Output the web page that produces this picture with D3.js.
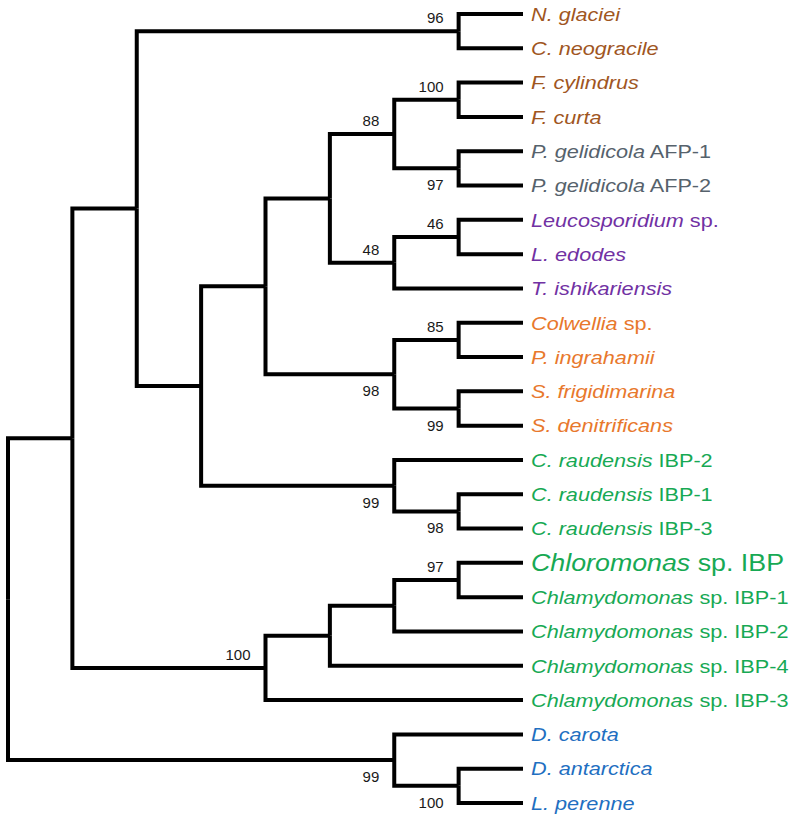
<!DOCTYPE html>
<html><head><meta charset="utf-8">
<script src="https://cdn.jsdelivr.net/npm/d3@7"></script>
<style>body{margin:0;background:#fff} svg{display:block}</style>
</head><body>
<svg id="chart" width="800" height="824"></svg>
<script>
// ---- tree topology (child order = top to bottom) ----
const nodeIds = ["root","A","B","N1","t0","t1","C","D","E","F","F1","t2","t3","P","t4","t5","G","Leu","t6","t7","t8","H","Col","t9","t10","S","t11","t12","I","t13","CR","t14","t15","J","K","L","Chl","t16","t17","t18","t19","t20","M","t21","DL","t22","t23"];
const parentIds = ["","root","A","B","N1","N1","B","C","D","E","F","F1","F1","F","P","P","E","G","Leu","Leu","G","D","H","Col","Col","H","S","S","C","I","I","CR","CR","A","J","K","L","Chl","Chl","L","K","J","root","M","M","DL","DL"];

// ---- bootstrap support values ----
const supportNodes  = ["N1","F1","F","P","Leu","G","Col","H","S","I","CR","Chl","J","M","DL"];
const supportValues = [96, 100, 88, 97, 46, 48, 85, 98, 99, 99, 98, 97, 100, 99, 100];

// ---- leaf taxa (t0..t23) ----
const taxonItalic = ["N. glaciei","C. neogracile","F. cylindrus","F. curta","P. gelidicola","P. gelidicola","Leucosporidium","L. edodes","T. ishikariensis","Colwellia","P. ingrahamii","S. frigidimarina","S. denitrificans","C. raudensis","C. raudensis","C. raudensis","Chloromonas","Chlamydomonas","Chlamydomonas","Chlamydomonas","Chlamydomonas","D. carota","D. antarctica","L. perenne"];
const taxonRoman = ["","","","","AFP-1","AFP-2","sp.","","","sp.","","","","IBP-2","IBP-1","IBP-3","sp. IBP","sp. IBP-1","sp. IBP-2","sp. IBP-4","sp. IBP-3","","",""];
const taxonGroup = ["diatom","diatom","diatom","diatom","gelidicola","gelidicola","fungus","fungus","fungus","bacterium","bacterium","bacterium","bacterium","alga","alga","alga","alga","alga","alga","alga","alga","plant","plant","plant"];

// ---- styles ----
const groupColor = {diatom:"#A0561F", gelidicola:"#56626C", fungus:"#7131A3", bacterium:"#E8782C", alga:"#17A954", plant:"#1F6FC1"};
const supportBelow = new Set(["P","H","S","I","CR","M","DL"]);
const highlightLeaf = "t16";

const svg = d3.select("#chart");
const root = d3.stratify()
  .id(d => d)
  .parentId((d, i) => parentIds[i] || null)(nodeIds);

d3.cluster().size([1, 1]).separation(() => 1)(root);

// cluster pads half a leaf step at each end; leaves span 14..803
const nLeaves = root.leaves().length;
const step = (803 - 14) / (nLeaves - 1);
const yS = d3.scaleLinear().domain([0, 1]).range([14 - step / 2, 803 + step / 2]);
const xS = d3.scaleLinear().domain([0, 1]).range([8, 523]);

svg.append("g")
  .attr("fill", "none")
  .attr("stroke", "#000")
  .attr("stroke-width", 4)
  .attr("stroke-linejoin", "miter")
  .attr("stroke-linecap", "butt")
  .selectAll("path")
  .data(root.links())
  .join("path")
  .attr("d", l => `M${xS(l.source.y)},${yS(l.source.x)}V${yS(l.target.x)}H${xS(l.target.y)}`);

const font = "'Liberation Sans', Arial, Helvetica, sans-serif";

// leaf labels
const lab = svg.append("g").attr("font-family", font);
root.leaves().forEach(n => {
  const i = +n.id.slice(1);
  const big = n.id === highlightLeaf;
  const t = lab.append("text")
    .attr("transform", `translate(${xS(n.y) + 8},${yS(n.x) + (big ? 8 : 6.8)}) scale(1.14,1)`)
    .attr("font-size", big ? 23.5 : 19)
    .attr("fill", groupColor[taxonGroup[i]]);
  t.append("tspan").attr("font-style", "italic").text(taxonItalic[i]);
  if (taxonRoman[i]) t.append("tspan").text(" " + taxonRoman[i]);
});

// support values
const byId = new Map(root.descendants().map(d => [d.id, d]));
svg.append("g")
  .attr("font-family", font)
  .attr("font-size", 15)
  .attr("fill", "#1a1a1a")
  .attr("text-anchor", "end")
  .selectAll("text")
  .data(supportNodes)
  .join("text")
  .attr("x", id => xS(byId.get(id).y) - 15)
  .attr("y", id => yS(byId.get(id).x) + (supportBelow.has(id) ? 22 : -8))
  .text((id, i) => supportValues[i]);
</script>
</body></html>
